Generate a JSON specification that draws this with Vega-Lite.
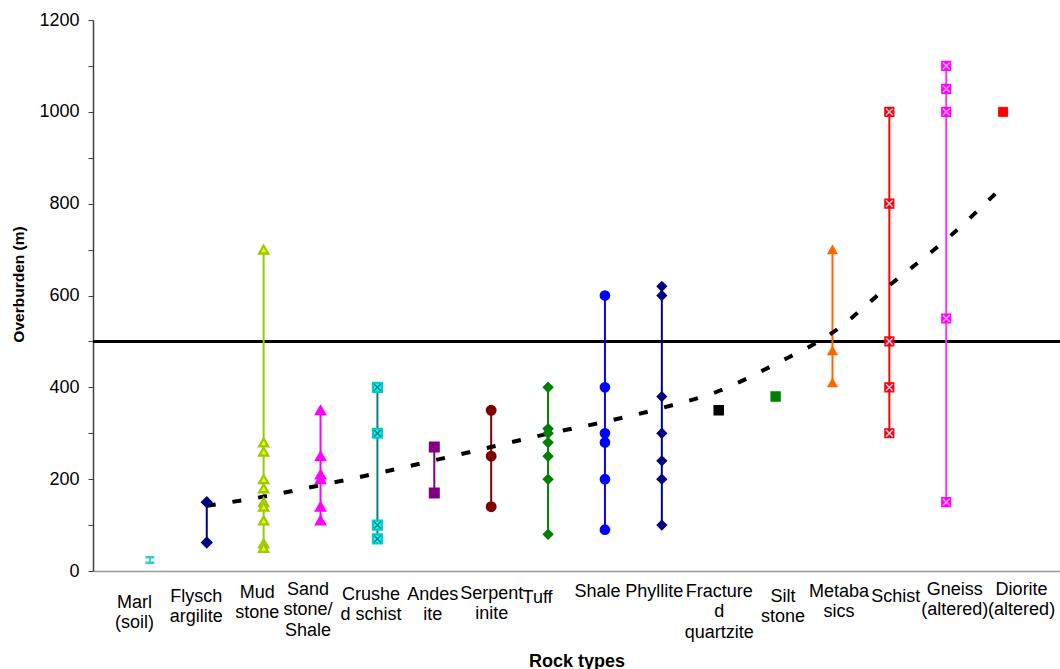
{
  "$schema": "https://vega.github.io/schema/vega-lite/v6.json",
  "width": 967,
  "height": 551,
  "autosize": {"type": "none"},
  "padding": {"left": 93, "top": 20, "right": 0, "bottom": 98},
  "config": {
    "view": {"stroke": null},
    "font": "Liberation Sans",
    "axis": {"labelFont": "Liberation Sans", "titleFont": "Liberation Sans", "labelColor": "#000000", "titleColor": "#000000", "grid": false}
  },
  "datasets": {
    "pts": [
      {"rock": "Marl (soil)", "overburden": 18},
      {"rock": "Marl (soil)", "overburden": 30},
      {"rock": "Flysch argilite", "overburden": 150},
      {"rock": "Flysch argilite", "overburden": 62},
      {"rock": "Mud stone", "overburden": 700},
      {"rock": "Mud stone", "overburden": 280},
      {"rock": "Mud stone", "overburden": 260},
      {"rock": "Mud stone", "overburden": 200},
      {"rock": "Mud stone", "overburden": 180},
      {"rock": "Mud stone", "overburden": 150},
      {"rock": "Mud stone", "overburden": 140},
      {"rock": "Mud stone", "overburden": 110},
      {"rock": "Mud stone", "overburden": 60},
      {"rock": "Mud stone", "overburden": 50},
      {"rock": "Sand stone/ Shale", "overburden": 350},
      {"rock": "Sand stone/ Shale", "overburden": 250},
      {"rock": "Sand stone/ Shale", "overburden": 210},
      {"rock": "Sand stone/ Shale", "overburden": 200},
      {"rock": "Sand stone/ Shale", "overburden": 140},
      {"rock": "Sand stone/ Shale", "overburden": 110},
      {"rock": "Crushed schist", "overburden": 400},
      {"rock": "Crushed schist", "overburden": 300},
      {"rock": "Crushed schist", "overburden": 100},
      {"rock": "Crushed schist", "overburden": 70},
      {"rock": "Andesite", "overburden": 270},
      {"rock": "Andesite", "overburden": 170},
      {"rock": "Serpentinite", "overburden": 350},
      {"rock": "Serpentinite", "overburden": 250},
      {"rock": "Serpentinite", "overburden": 140},
      {"rock": "Tuff", "overburden": 400},
      {"rock": "Tuff", "overburden": 310},
      {"rock": "Tuff", "overburden": 300},
      {"rock": "Tuff", "overburden": 280},
      {"rock": "Tuff", "overburden": 250},
      {"rock": "Tuff", "overburden": 200},
      {"rock": "Tuff", "overburden": 80},
      {"rock": "Shale", "overburden": 600},
      {"rock": "Shale", "overburden": 400},
      {"rock": "Shale", "overburden": 300},
      {"rock": "Shale", "overburden": 280},
      {"rock": "Shale", "overburden": 200},
      {"rock": "Shale", "overburden": 90},
      {"rock": "Phyllite", "overburden": 620},
      {"rock": "Phyllite", "overburden": 600},
      {"rock": "Phyllite", "overburden": 380},
      {"rock": "Phyllite", "overburden": 300},
      {"rock": "Phyllite", "overburden": 240},
      {"rock": "Phyllite", "overburden": 200},
      {"rock": "Phyllite", "overburden": 100},
      {"rock": "Fractured quartzite", "overburden": 350},
      {"rock": "Silt stone", "overburden": 380},
      {"rock": "Metabasics", "overburden": 700},
      {"rock": "Metabasics", "overburden": 480},
      {"rock": "Metabasics", "overburden": 410},
      {"rock": "Schist", "overburden": 1000},
      {"rock": "Schist", "overburden": 800},
      {"rock": "Schist", "overburden": 500},
      {"rock": "Schist", "overburden": 400},
      {"rock": "Schist", "overburden": 300},
      {"rock": "Gneiss (altered)", "overburden": 1100},
      {"rock": "Gneiss (altered)", "overburden": 1050},
      {"rock": "Gneiss (altered)", "overburden": 1000},
      {"rock": "Gneiss (altered)", "overburden": 550},
      {"rock": "Gneiss (altered)", "overburden": 150},
      {"rock": "Diorite (altered)", "overburden": 1000}
    ],
    "trend": [
      {"rock": "Flysch argilite", "overburden": 142},
      {"rock": "Mud stone", "overburden": 162},
      {"rock": "Sand stone/ Shale", "overburden": 187},
      {"rock": "Crushed schist", "overburden": 213},
      {"rock": "Andesite", "overburden": 241},
      {"rock": "Serpentinite", "overburden": 270},
      {"rock": "Tuff", "overburden": 299},
      {"rock": "Shale", "overburden": 325},
      {"rock": "Phyllite", "overburden": 355},
      {"rock": "Fractured quartzite", "overburden": 392},
      {"rock": "Silt stone", "overburden": 451},
      {"rock": "Metabasics", "overburden": 519},
      {"rock": "Schist", "overburden": 622},
      {"rock": "Gneiss (altered)", "overburden": 722},
      {"rock": "Diorite (altered)", "overburden": 838}
    ],
    "threshold": [{"overburden": 500}]
  },
  "layer": [
    {
      "data": {"name": "threshold"},
      "mark": {"type": "rule", "color": "#000000", "strokeWidth": 3},
      "encoding": {
        "y": {"field": "overburden", "type": "quantitative", "scale": {"domain": [0, 1200], "nice": false}}
      }
    },
    {
      "data": {"name": "pts"},
      "mark": {"type": "rule", "strokeWidth": 2},
      "encoding": {
        "x": {"field": "rock", "type": "nominal", "sort": null,
          "scale": {"type": "point", "padding": 1, "domain": ["Marl (soil)","Flysch argilite","Mud stone","Sand stone/ Shale","Crushed schist","Andesite","Serpentinite","Tuff","Shale","Phyllite","Fractured quartzite","Silt stone","Metabasics","Schist","Gneiss (altered)","Diorite (altered)"]},
          "axis": {
            "title": "Rock types", "titleFontSize": 18, "titleFontWeight": "bold", "titleY": 95, "titleBaseline": "alphabetic",
            "labelFontSize": 18, "labelAngle": 0, "labelLineHeight": 20.5, "labelOverlap": false, "labelBound": false, "labelLimit": 300,
            "labelPadding": {"condition": {"test": "true", "expr": "{'Marl (soil)': 22, 'Flysch argilite': 16, 'Mud stone': 12, 'Sand stone/ Shale': 9, 'Crushed schist': 14, 'Andesite': 14, 'Serpentinite': 13, 'Tuff': 17, 'Shale': 11, 'Phyllite': 11, 'Fractured quartzite': 11, 'Silt stone': 16, 'Metabasics': 11, 'Schist': 16, 'Gneiss (altered)': 9, 'Diorite (altered)': 9}[datum.value]"}, "value": 12},
            "labelOffset": {"condition": {"test": "true", "expr": "{'Marl (soil)': -16, 'Flysch argilite': -11, 'Mud stone': -7, 'Sand stone/ Shale': -13, 'Crushed schist': -7, 'Andesite': -2, 'Serpentinite': 0, 'Tuff': -11, 'Shale': -8, 'Phyllite': -8, 'Fractured quartzite': 0, 'Silt stone': 7, 'Metabasics': 6, 'Schist': 6, 'Gneiss (altered)': 8, 'Diorite (altered)': 18}[datum.value]"}, "value": 0},
            "ticks": false, "domainColor": "#999999", "domainWidth": 1.5,
            "labelExpr": "{'Marl (soil)': ['Marl','(soil)'], 'Flysch argilite': ['Flysch','argilite'], 'Mud stone': ['Mud','stone'], 'Sand stone/ Shale': ['Sand','stone/','Shale'], 'Crushed schist': ['Crushe','d schist'], 'Andesite': ['Andes','ite'], 'Serpentinite': ['Serpent','inite'], 'Tuff': 'Tuff', 'Shale': 'Shale', 'Phyllite': 'Phyllite', 'Fractured quartzite': ['Fracture','d','quartzite'], 'Silt stone': ['Silt','stone'], 'Metabasics': ['Metaba','sics'], 'Schist': 'Schist', 'Gneiss (altered)': ['Gneiss','(altered)'], 'Diorite (altered)': ['Diorite','(altered)']}[datum.value]"
          }
        },
        "y": {"aggregate": "min", "field": "overburden", "type": "quantitative",
          "axis": {
            "title": "Overburden (m)", "titleFontSize": 15.5, "titleFontWeight": "bold", "titleX": -75, "titleY": 264, "titleAngle": 270, "titleBaseline": "middle", "titleAlign": "center",
            "values": [0,50,100,150,200,250,300,350,400,450,500,550,600,650,700,750,800,850,900,950,1000,1050,1100,1150,1200],
            "format": "d",
            "labelExpr": "datum.value % 200 === 0 ? datum.label : ''",
            "labelFontSize": 18, "labelPadding": 9, "tickSize": 5, "tickColor": "#404040", "domainColor": "#404040", "domainWidth": 1.5
          }
        },
        "y2": {"aggregate": "max", "field": "overburden"},
        "color": {"field": "rock", "type": "nominal", "legend": null,
          "scale": {"domain": ["Marl (soil)","Flysch argilite","Mud stone","Sand stone/ Shale","Crushed schist","Andesite","Serpentinite","Tuff","Shale","Phyllite","Fractured quartzite","Silt stone","Metabasics","Schist","Gneiss (altered)","Diorite (altered)"],
            "range": ["#33CCCC","#000080","#99CC00","#FF00FF","#008080","#800080","#800000","#008000","#0000FF","#000080","#000000","#008000","#FF6600","#FF0000","#FF33FF","#FF0000"]}}
      }
    },
    {
      "data": {"name": "trend"},
      "mark": {"type": "line", "color": "#000000", "strokeWidth": 4, "strokeDash": [9, 17], "interpolate": "monotone"},
      "encoding": {
        "x": {"field": "rock", "type": "nominal", "sort": null},
        "y": {"field": "overburden", "type": "quantitative"}
      }
    },
    {
      "data": {"name": "pts"},
      "mark": {"type": "point", "filled": true, "opacity": 1, "size": 81},
      "encoding": {
        "x": {"field": "rock", "type": "nominal", "sort": null},
        "y": {"field": "overburden", "type": "quantitative"},
        "shape": {"field": "rock", "type": "nominal", "legend": null,
          "scale": {"domain": ["Marl (soil)","Flysch argilite","Mud stone","Sand stone/ Shale","Crushed schist","Andesite","Serpentinite","Tuff","Shale","Phyllite","Fractured quartzite","Silt stone","Metabasics","Schist","Gneiss (altered)","Diorite (altered)"],
            "range": ["stroke","diamond","triangle-up","triangle-up","square","square","circle","diamond","circle","diamond","square","square","triangle-up","square","square","square"]}},
        "fill": {"field": "rock", "type": "nominal", "legend": null,
          "scale": {"domain": ["Marl (soil)","Flysch argilite","Mud stone","Sand stone/ Shale","Crushed schist","Andesite","Serpentinite","Tuff","Shale","Phyllite","Fractured quartzite","Silt stone","Metabasics","Schist","Gneiss (altered)","Diorite (altered)"],
            "range": ["#33CCCC","#000080","#FFFF00","#FF00FF","#00FFFF","#800080","#800000","#008000","#0000FF","#000080","#000000","#008000","#FF6600","#FF0000","#FF00FF","#FF0000"]}},
        "stroke": {"field": "rock", "type": "nominal", "legend": null,
          "scale": {"domain": ["Marl (soil)","Flysch argilite","Mud stone","Sand stone/ Shale","Crushed schist","Andesite","Serpentinite","Tuff","Shale","Phyllite","Fractured quartzite","Silt stone","Metabasics","Schist","Gneiss (altered)","Diorite (altered)"],
            "range": ["#33CCCC","#000080","#99CC00","#FF00FF","#00CCCC","#800080","#800000","#008000","#0000FF","#000080","#000000","#008000","#FF6600","#FF0000","#FF00FF","#FF0000"]}},
        "strokeWidth": {"field": "rock", "type": "nominal", "legend": null,
          "scale": {"domain": ["Marl (soil)","Flysch argilite","Mud stone","Sand stone/ Shale","Crushed schist","Andesite","Serpentinite","Tuff","Shale","Phyllite","Fractured quartzite","Silt stone","Metabasics","Schist","Gneiss (altered)","Diorite (altered)"],
            "range": [2.5,1,1.5,1,1,1,1,1,1,1,1,1,1,1,1,1]}}
      }
    },
    {
      "data": {"name": "pts"},
      "transform": [{"filter": {"field": "rock", "oneOf": ["Crushed schist", "Schist", "Gneiss (altered)"]}}],
      "mark": {"type": "point", "filled": false, "opacity": 1, "size": 45, "strokeWidth": 1.5, "shape": "M-1,-1L1,1M-1,1L1,-1"},
      "encoding": {
        "x": {"field": "rock", "type": "nominal", "sort": null},
        "y": {"field": "overburden", "type": "quantitative"},
        "stroke": {"field": "rock", "type": "nominal", "legend": null,
          "scale": {"domain": ["Crushed schist", "Schist", "Gneiss (altered)"], "range": ["#008080", "#99CCFF", "#FF99FF"]}}
      }
    }
  ],
  "resolve": {"scale": {"stroke": "independent", "color": "independent", "fill": "independent", "shape": "independent", "strokeWidth": "independent"}}
}
